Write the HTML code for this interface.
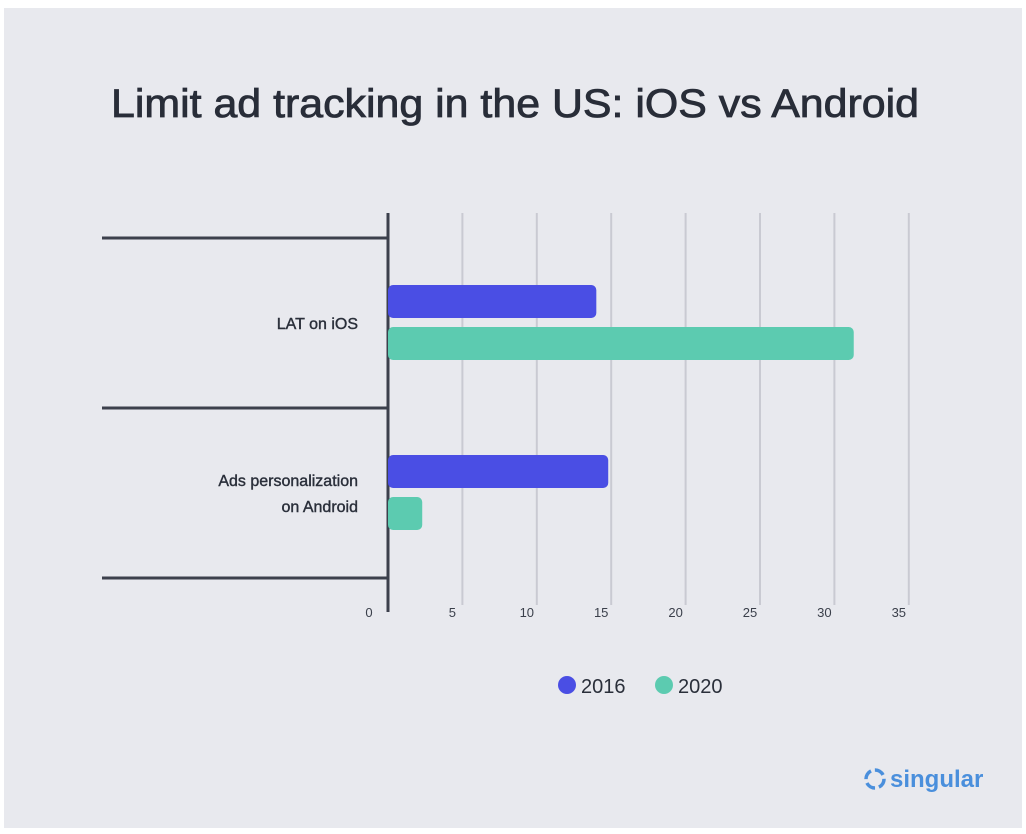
<!DOCTYPE html>
<html><head><meta charset="utf-8"><style>
html,body{margin:0;padding:0;background:#fff;}
#card{position:absolute;left:4px;top:8px;width:1018px;height:820px;background:#e8e9ee;}
svg{position:absolute;left:0;top:0;}
text{font-family:"Liberation Sans",sans-serif;}
</style></head><body>
<div id="card"></div>
<svg id="chart" width="1026" height="834">
<text x="515" y="117" text-anchor="middle" font-size="40" fill="#282d38" stroke="#282d38" stroke-width="0.8" textLength="808" lengthAdjust="spacingAndGlyphs">Limit ad tracking in the US: iOS vs Android</text>
<g id="grid"></g><g id="bars"></g><g id="labels"></g>
<g>
<circle cx="567" cy="685" r="9" fill="#4a4ee4"/>
<text x="581" y="693" font-size="20" fill="#2a2f3a">2016</text>
<circle cx="664" cy="685" r="9" fill="#5ccbb0"/>
<text x="678" y="693" font-size="20" fill="#2a2f3a">2020</text>
</g>
<g>
<circle cx="875" cy="779" r="9" fill="none" stroke="#4a8fdc" stroke-width="3.5" stroke-dasharray="10 4"/>
<text x="890" y="787" font-size="24" font-weight="bold" fill="#4a8fdc">singular</text>
</g>
</svg>
<script>
const categories = ["LAT on iOS", "Ads personalization on Android"];
const values2016 = [14, 14.8];
const values2020 = [31.3, 2.3];
const ticks = [0, 5, 10, 15, 20, 25, 30, 35];
const NS = "http://www.w3.org/2000/svg";
const x0 = 388, pxPer = 14.88;
function xs(v){return x0 + v*pxPer;}
const bandTop = 238, band = 170;
function mk(t, a, p){const e=document.createElementNS(NS,t);for(const k in a)e.setAttribute(k,a[k]);p.appendChild(e);return e;}
const grid=document.getElementById('grid'), bars=document.getElementById('bars'), labels=document.getElementById('labels');
ticks.forEach(t=>{
  if(t>0){const l=mk('line',{x1:xs(t),x2:xs(t),y1:213,y2:605,stroke:'#c9cad2','stroke-width':2},grid);
  
  }
  const tx=mk('text',{x:t===0?369:xs(t)-10,y:617,'font-size':13,fill:'#3a3f4a','text-anchor':'middle'},labels);
  tx.textContent=t;
  
  
});
for(let i=0;i<=categories.length;i++){
  const y=bandTop+i*band;
  const l=mk('line',{x1:102,x2:388,y1:y,y2:y,stroke:'#3c404c','stroke-width':3},grid);
  
  
}
const ax=mk('line',{x1:388,x2:388,y1:213,y2:612,stroke:'#3c404c','stroke-width':3},grid);


categories.forEach((c,i)=>{
  const top=bandTop+i*band;
  const b1=mk('rect',{x:x0,y:top+47,width:xs(values2016[i])-x0,height:33,rx:5,fill:'#4a4ee4'},bars);
  
  
  const b2=mk('rect',{x:x0,y:top+89,width:xs(values2020[i])-x0,height:33,rx:5,fill:'#5ccbb0'},bars);
  
  
  const words=c==="LAT on iOS"?[c]:["Ads personalization","on Android"];
  words.forEach((w,j)=>{
    const cy=top+85+(j-(words.length-1)/2)*26+6;
    const t=mk('text',{x:358,y:cy,'font-size':16,fill:'#2a2f3a',stroke:'#2a2f3a','stroke-width':0.4,'text-anchor':'end'},labels);
    t.textContent=w;
    
    
  });
});
</script>
</body></html>
